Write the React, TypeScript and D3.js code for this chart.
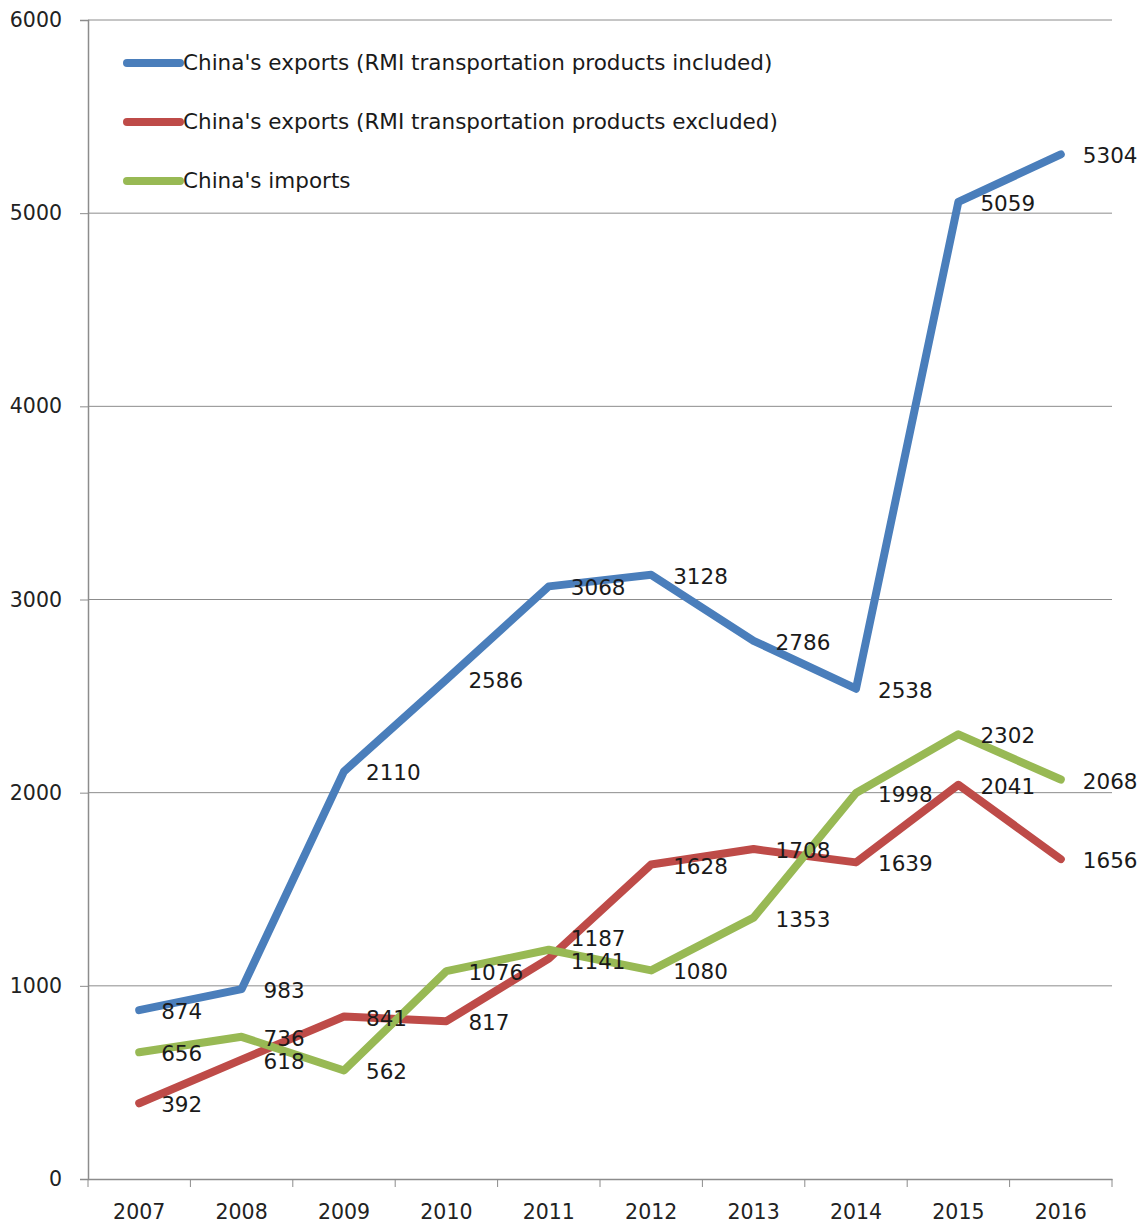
import React, { useEffect, useRef } from 'react';
import * as d3 from 'd3';

const years = ['2007', '2008', '2009', '2010', '2011', '2012', '2013', '2014', '2015', '2016'];
const exportsIncluded = [874, 983, 2110, 2586, 3068, 3128, 2786, 2538, 5059, 5304];
const exportsExcluded = [392, 618, 841, 817, 1141, 1628, 1708, 1639, 2041, 1656];
const imports = [656, 736, 562, 1076, 1187, 1080, 1353, 1998, 2302, 2068];
const yTicks = [0, 1000, 2000, 3000, 4000, 5000, 6000];

const series = [
  { name: "China's exports (RMI transportation products included)", values: exportsIncluded, color: '#4a7ebb' },
  { name: "China's exports (RMI transportation products excluded)", values: exportsExcluded, color: '#be4b48' },
  { name: "China's imports", values: imports, color: '#98b954' },
];

const W = 1143;
const H = 1225;

const App = () => {
  const svgRef = useRef(null);

  useEffect(() => {
    const svg = d3.select(svgRef.current);
    svg.selectAll('*').remove();

    const left = 88, right = 1112, top = 20, bottom = 1179;
    const font = "'DejaVu Sans', sans-serif";

    const x = d3.scaleBand().domain(years).range([left, right]);
    const y = d3.scaleLinear().domain([0, 6000]).range([bottom, top]);
    const cx = (i) => x(years[i]) + x.bandwidth() / 2;

    // gridlines
    svg.append('g')
      .selectAll('line')
      .data(yTicks.filter(t => t > 0))
      .join('line')
      .attr('x1', left).attr('x2', right)
      .attr('y1', d => y(d)).attr('y2', d => y(d))
      .attr('stroke', '#8c8c8c')
      .attr('stroke-width', 1);

    // y axis
    const yAxis = svg.append('g')
      .attr('transform', `translate(${left},0)`)
      .call(d3.axisLeft(y).tickValues(yTicks).tickSize(8).tickPadding(18).tickFormat(d3.format('d')));
    yAxis.select('.domain').attr('stroke', '#8c8c8c').attr('stroke-width', 1.5);
    yAxis.selectAll('.tick line').attr('stroke', '#8c8c8c');
    yAxis.selectAll('text').attr('font-family', font).attr('font-size', 20.5).attr('fill', '#222');

    // x axis
    const xAxis = svg.append('g')
      .attr('transform', `translate(0,${bottom})`)
      .call(d3.axisBottom(x).tickSize(0).tickPadding(25));
    xAxis.select('.domain').attr('stroke', '#8c8c8c').attr('stroke-width', 1.5);
    xAxis.selectAll('text').attr('font-family', font).attr('font-size', 20.5).attr('fill', '#222');
    svg.append('g')
      .selectAll('line')
      .data(d3.range(years.length + 1))
      .join('line')
      .attr('x1', i => left + i * x.step()).attr('x2', i => left + i * x.step())
      .attr('y1', bottom).attr('y2', bottom + 8)
      .attr('stroke', '#8c8c8c');

    const line = d3.line()
      .x((d, i) => cx(i))
      .y(d => y(d));

    series.forEach(s => {
      svg.append('path')
        .datum(s.values)
        .attr('d', line)
        .attr('fill', 'none')
        .attr('stroke', s.color)
        .attr('stroke-width', 8)
        .attr('stroke-linejoin', 'round')
        .attr('stroke-linecap', 'round');
    });

    // nudge labels that would collide (series index, point index) -> dy
    const nudge = { '2-4': -13, '1-4': 1 };

    series.forEach((s, si) => {
      svg.append('g')
        .selectAll('text')
        .data(s.values)
        .join('text')
        .attr('x', (d, i) => cx(i) + 22)
        .attr('y', (d, i) => y(d) + 3 + (nudge[`${si}-${i}`] || 0))
        .attr('dominant-baseline', 'middle')
        .attr('font-family', font)
        .attr('font-size', 21.5)
        .attr('fill', '#1a1a1a')
        .text(d => d);
    });

    // legend
    const legend = svg.append('g');
    series.forEach((s, i) => {
      const ly = 63 + i * 59;
      legend.append('line')
        .attr('x1', 127).attr('x2', 180)
        .attr('y1', ly).attr('y2', ly)
        .attr('stroke', s.color)
        .attr('stroke-width', 8)
        .attr('stroke-linecap', 'round');
      legend.append('text')
        .attr('x', 183)
        .attr('y', ly + 1)
        .attr('dominant-baseline', 'middle')
        .attr('font-family', font)
        .attr('font-size', 21.5)
        .attr('fill', '#1a1a1a')
        .text(s.name);
    });
  }, []);

  return (
    <svg ref={svgRef} width={W} height={H} style={{ position: 'absolute', top: 0, left: 0, background: '#fff' }} />
  );
};

export default App;
